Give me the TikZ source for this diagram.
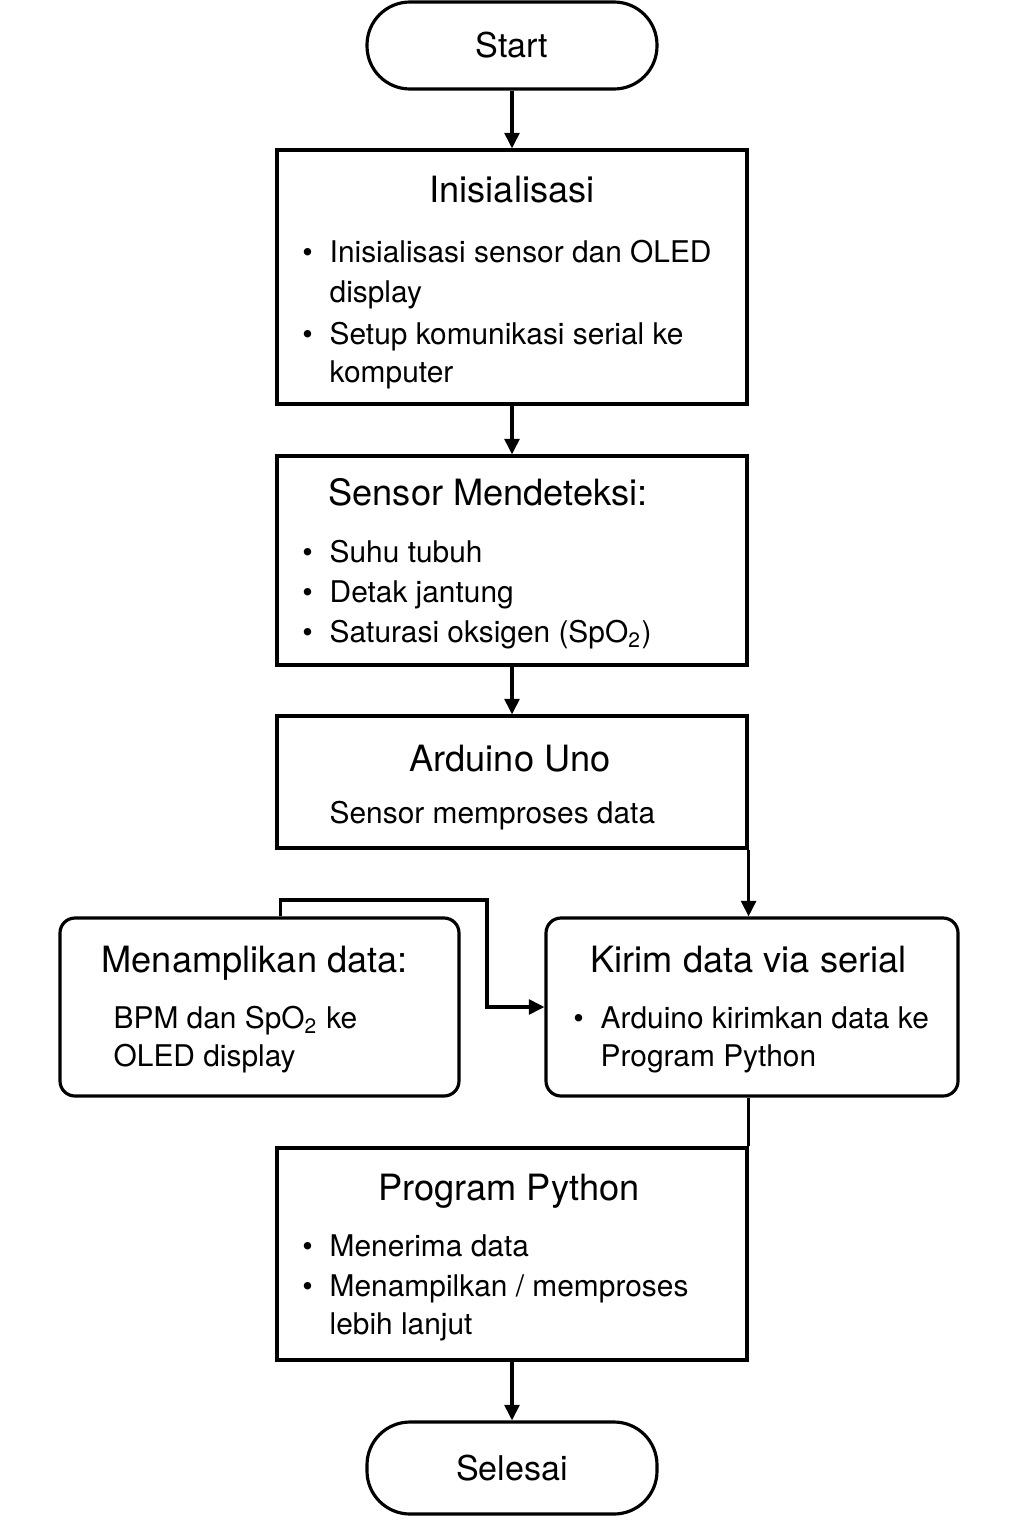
\documentclass[tikz,border=0pt]{standalone}
\usepackage{fontspec}
\setmainfont{TeX Gyre Heros}
\usetikzlibrary{arrows.meta}
\newcommand{\blt}{\llap{\textbullet\hspace{0.17cm}}}

\begin{document}
\begin{tikzpicture}[align=left,
    box/.style={draw=black, line width=0.9pt, rectangle, inner sep=0pt},
    rbox/.style={box, rounded corners=0.15cm},
    term/.style={box, rounded corners=0.43cm, minimum width=2.9cm, font=\fontsize{9.7}{11}\selectfont},
    ttl/.style={inner sep=0pt, text height=.72em, text depth=0pt, font=\fontsize{10.3}{12}\selectfont},
    txt/.style={anchor=west, inner sep=0pt, text height=.72em, text depth=0pt, font=\fontsize{8.5}{11}\selectfont},
    arr/.style={line width=0.9pt, -{Triangle[length=4.4pt,width=4.2pt]}},
    con/.style={line width=0.9pt}]
      \useasboundingbox (0,0) rectangle (10.24,-15.36);
      %
      \node[term, minimum height=0.87cm] (start) at (5.12,-0.455) {Start};
      %
      \node[box, minimum width=4.7cm, minimum height=2.54cm] (init) at (5.12,-2.77) {};
      \node[ttl] (init-t) at (5.12,-1.90) {Inisialisasi};
      \node[txt] (init-1) at (3.29,-2.50) {\blt Inisialisasi sensor dan OLED};
      \node[txt] (init-2) at (3.29,-2.90) {display};
      \node[txt] (init-3) at (3.29,-3.32) {\blt Setup komunikasi serial ke};
      \node[txt] (init-4) at (3.29,-3.70) {komputer};
      %
      \node[box, minimum width=4.7cm, minimum height=2.09cm] (sensor) at (5.12,-5.605) {};
      \node[ttl] (sensor-t) at (4.88,-4.93) {Sensor Mendeteksi:};
      \node[txt] (sensor-1) at (3.29,-5.50) {\blt Suhu tubuh};
      \node[txt] (sensor-2) at (3.29,-5.90) {\blt Detak jantung};
      \node[txt] (sensor-3) at (3.29,-6.30) {\blt Saturasi oksigen (SpO\textsubscript{2})};
      %
      \node[box, minimum width=4.7cm, minimum height=1.32cm] (arduino) at (5.12,-7.82) {};
      \node[ttl] (arduino-t) at (5.10,-7.59) {Arduino Uno};
      \node[txt] (arduino-1) at (3.29,-8.11) {Sensor memproses data};
      %
      \node[rbox, minimum width=3.99cm, minimum height=1.78cm] (tampil) at (2.595,-10.07) {};
      \node[ttl, anchor=west] (tampil-t) at (1.01,-9.60) {Menamplikan data:};
      \node[txt] (tampil-1) at (1.13,-10.16) {BPM dan SpO\textsubscript{2} ke};
      \node[txt] (tampil-2) at (1.13,-10.54) {OLED display};
      %
      \node[rbox, minimum width=4.12cm, minimum height=1.78cm] (kirim) at (7.52,-10.07) {};
      \node[ttl, anchor=west] (kirim-t) at (5.90,-9.60) {Kirim data via serial};
      \node[txt] (kirim-1) at (6.00,-10.16) {\blt Arduino kirimkan data ke};
      \node[txt] (kirim-2) at (6.00,-10.54) {Program Python};
      %
      \node[box, minimum width=4.7cm, minimum height=2.12cm] (program) at (5.12,-12.54) {};
      \node[ttl] (program-t) at (5.09,-11.88) {Program Python};
      \node[txt] (program-1) at (3.29,-12.44) {\blt Menerima data};
      \node[txt] (program-2) at (3.29,-12.84) {\blt Menampilkan / memproses};
      \node[txt] (program-3) at (3.29,-13.22) {lebih lanjut};
      %
      \node[term, minimum height=0.92cm] (selesai) at (5.12,-14.68) {Selesai};
      %
      \coordinate (hop) at (4.87,-9.00);
      \draw[arr] (start) -- (init);
      \draw[arr] (init) -- (sensor);
      \draw[arr] (sensor) -- (arduino);
      \draw[arr] (arduino.south east) -- (arduino.south east |- kirim.north);
      \draw[arr] ([xshift=2.22cm]tampil.north west) |- (hop) |- (kirim.west);
      \draw[con] (kirim.south -| program.north east) -- (program.north east);
      \draw[arr] (program) -- (selesai);
    \end{tikzpicture}
\end{document}
